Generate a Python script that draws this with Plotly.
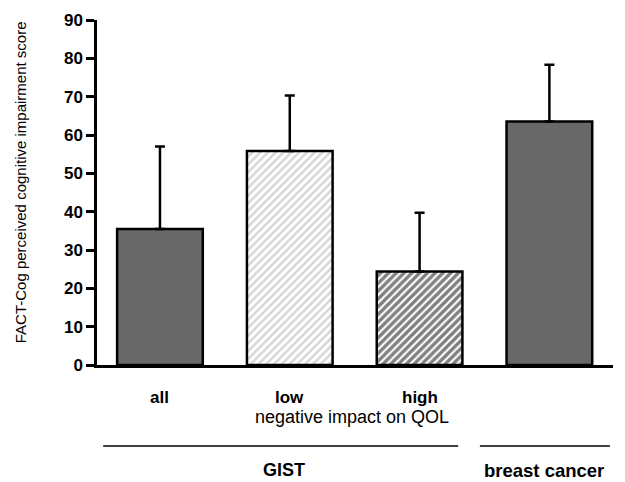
import plotly.graph_objects as go

categories = ["all", "low", "high", "breast cancer"]
means = [35.5, 55.8, 24.4, 63.5]
sd_upper = [21.5, 14.5, 15.3, 14.8]
tick_labels = ["all", "low", "high", ""]
y_ticks = [0, 10, 20, 30, 40, 50, 60, 70, 80, 90]

fill_colors = ["#686868", "white", "white", "#686868"]
pattern_shapes = ["", "/", "/", ""]
pattern_fg = ["black", "#aaaaaa", "black", "black"]
pattern_solidity = [0.4, 0.45, 0.6, 0.4]

fig = go.Figure()
for i, c in enumerate(categories):
    fig.add_trace(go.Bar(
        x=[c],
        y=[means[i]],
        width=0.66,
        marker=dict(
            color=fill_colors[i],
            line=dict(color="black", width=2.5),
            pattern=dict(shape=pattern_shapes[i], fgcolor=pattern_fg[i],
                         bgcolor=fill_colors[i], size=5.5, solidity=pattern_solidity[i]),
        ),
        error_y=dict(type="data", array=[sd_upper[i]], arrayminus=[0], symmetric=False,
                     color="black", thickness=2.5, width=5),
        showlegend=False,
        hoverinfo="skip",
    ))

font = "Arial, Liberation Sans, sans-serif"

fig.update_layout(
    width=625, height=482,
    barmode="overlay",
    margin=dict(l=97, r=12, t=20, b=117),
    plot_bgcolor="white", paper_bgcolor="white",
    font=dict(family=font, color="black"),
    xaxis=dict(range=[-0.485, 3.49], showticklabels=False, ticks="",
               categoryorder="array", categoryarray=categories,
               showline=True, linecolor="black", linewidth=2.5, showgrid=False, zeroline=False),
    yaxis=dict(range=[0, 90], tickvals=y_ticks, ticktext=[f"<b>{v}</b>" for v in y_ticks],
               ticks="outside", ticklen=8, tickwidth=2.5, tickcolor="black",
               tickfont=dict(size=17, family=font),
               showline=True, linecolor="black", linewidth=2.5, showgrid=False, zeroline=False),
)

annotations = []
for c, t in zip(categories, tick_labels):
    if t:
        annotations.append(dict(x=c, xref="x", y=-0.093, yref="paper", text=f"<b>{t}</b>",
                                showarrow=False, font=dict(size=17), xanchor="center", yanchor="middle"))
annotations += [
    dict(x=0.494, xref="paper", y=-0.151, yref="paper", text="negative impact on QOL",
         showarrow=False, font=dict(size=18), xanchor="center", yanchor="middle"),
    dict(x=0.362, xref="paper", y=-0.305, yref="paper", text="<b>GIST</b>",
         showarrow=False, font=dict(size=18), xanchor="center", yanchor="middle"),
    dict(x=0.866, xref="paper", y=-0.305, yref="paper", text="<b>breast cancer</b>",
         showarrow=False, font=dict(size=18.5), xanchor="center", yanchor="middle"),
    dict(x=-0.149, xref="paper", y=0.53, yref="paper",
         text="FACT-Cog perceived cognitive impairment score",
         textangle=-90, showarrow=False, font=dict(size=15), xanchor="center", yanchor="middle"),
]
fig.update_layout(annotations=annotations)

fig.add_shape(type="line", xref="paper", yref="paper", x0=0.012, x1=0.70, y0=-0.235, y1=-0.235,
              line=dict(color="black", width=1.5))
fig.add_shape(type="line", xref="paper", yref="paper", x0=0.742, x1=0.994, y0=-0.235, y1=-0.235,
              line=dict(color="black", width=1.5))

fig.write_html("out.html", config={"displayModeBar": False},
               post_script="document.body.style.margin='0';document.body.style.overflow='hidden';")
